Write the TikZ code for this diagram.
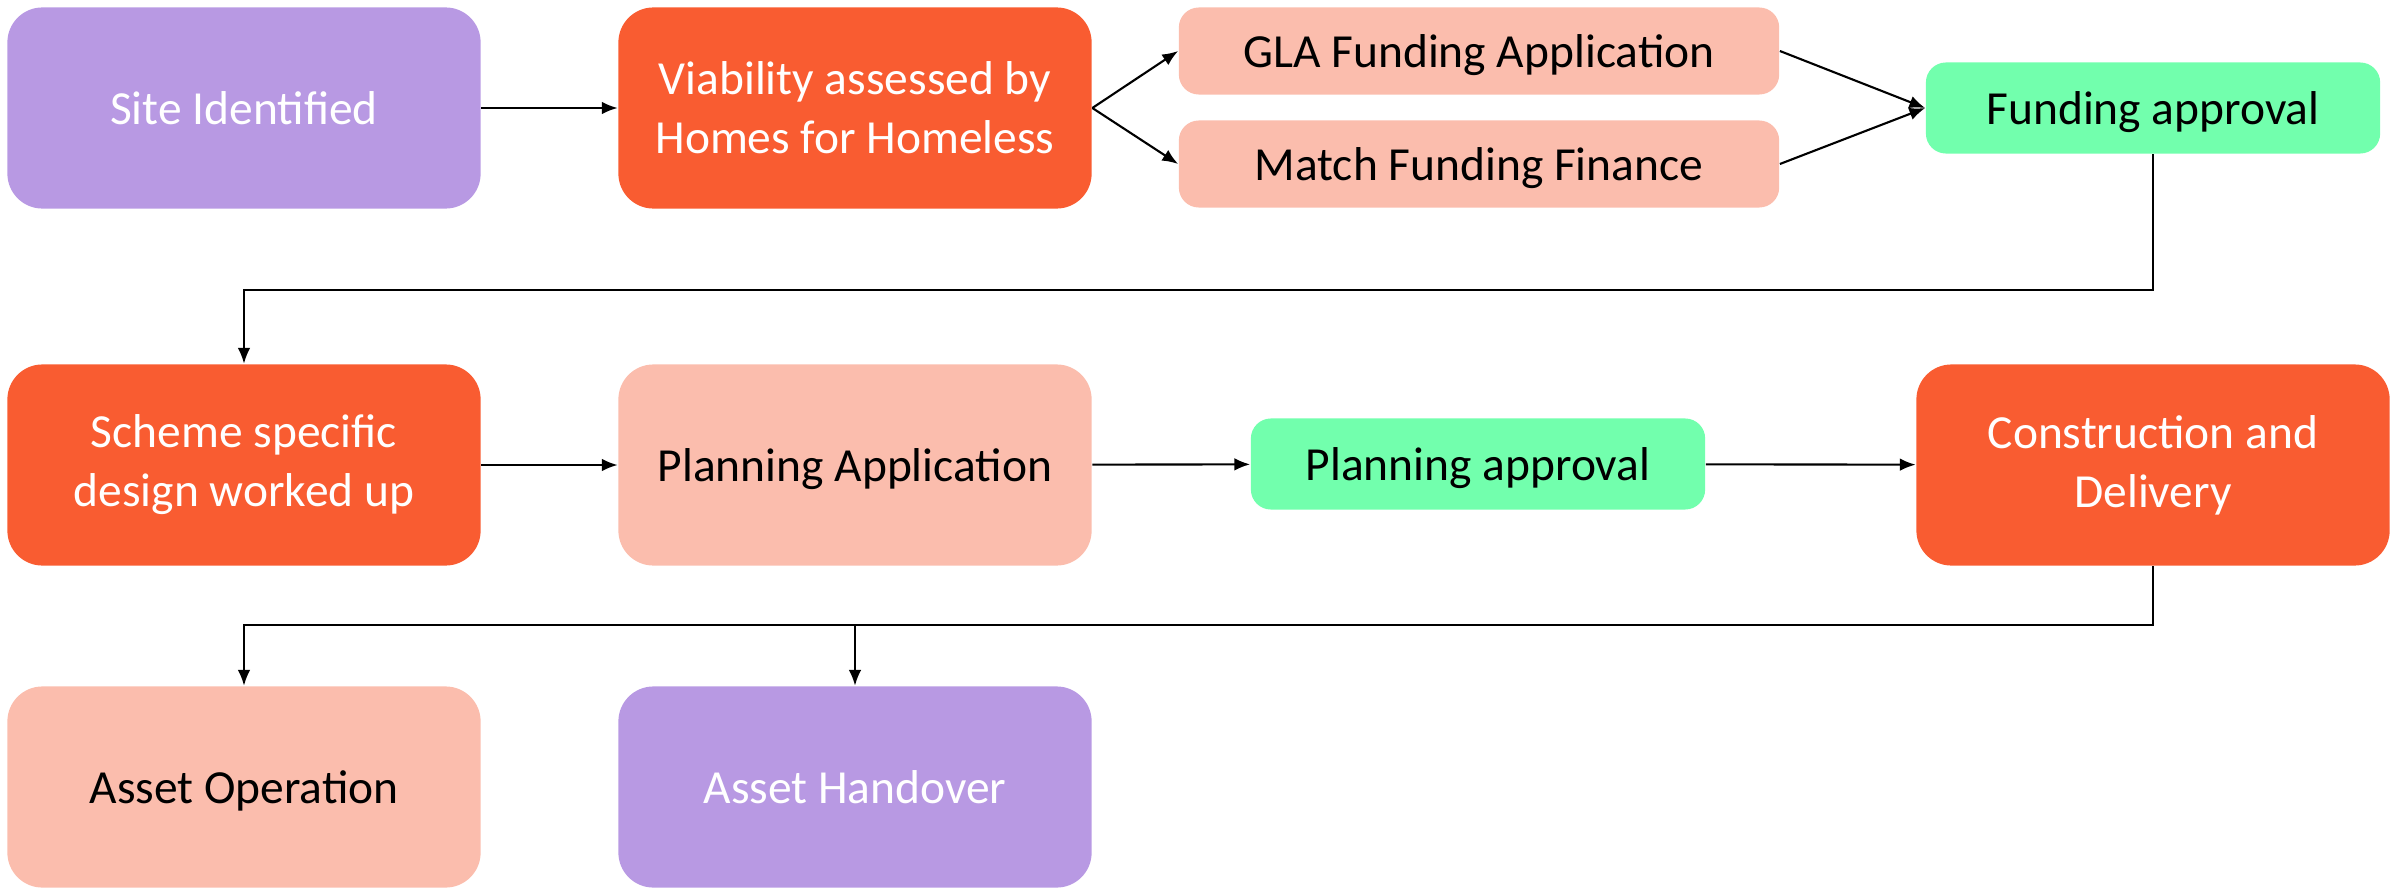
\documentclass[tikz,border=0pt]{standalone}
\usepackage{fontspec}
\setmainfont{Carlito}
\usetikzlibrary{arrows.meta}

\definecolor{lilac}{HTML}{B899E3}
\definecolor{coral}{HTML}{F95C31}
\definecolor{peach}{HTML}{FBBDAD}
\definecolor{mint}{HTML}{72FFAD}

\begin{document}
\begin{tikzpicture}[x=0.01cm, y=-0.01cm,
    box/.style={rounded corners=0.35cm, minimum width=4.73cm, minimum height=2.01cm,
                inner sep=0pt, align=center, font=\fontsize{13.5}{16.8}\selectfont},
    oneline/.style={text height=12pt, text depth=2.6pt},
    slimbox/.style={box, oneline, rounded corners=0.2cm, minimum width=6cm, minimum height=0.87cm},
    okbox/.style={box, oneline, rounded corners=0.2cm, fill=mint, minimum width=4.54cm, minimum height=0.91cm},
    flow/.style={-{Latex[length=4.5pt,width=3.6pt]}, line width=0.6pt}]
        \useasboundingbox (0,0) rectangle (2395,894);

        % --- Row 1: site and funding ---
        \node[box, oneline, fill=lilac, text=white] (site) at (244,108) {Site Identified};
        \node[box, fill=coral, text=white] (viab) at (855,108) {Viability assessed by\\Homes for Homeless};
        \node[slimbox, fill=peach] (gla) at (1479,51) {GLA Funding Application};
        \node[slimbox, fill=peach] (match) at (1479,164) {Match Funding Finance};
        \node[okbox] (fund) at (2153,108) {Funding approval};

        % --- Row 2: design, planning, build ---
        \node[box, fill=coral, text=white] (scheme) at (244,465) {Scheme specific\\design worked up};
        \node[box, oneline, fill=peach] (papp) at (855,465) {Planning Application};
        \node[okbox] (pok) at (1478,464) {Planning approval};
        \node[box, fill=coral, text=white] (build) at (2153,465) {Construction and\\Delivery};

        % --- Row 3: asset ---
        \node[box, oneline, fill=peach] (op) at (244,787) {Asset Operation};
        \node[box, oneline, fill=lilac, text=white] (hand) at (855,787) {Asset Handover};

        % --- Connectors ---
        \draw[flow] (site) -- (viab);
        \draw[flow] (viab.east) -- (gla.west);
        \draw[flow] (viab.east) -- (match.west);
        \draw[flow] (gla.east) -- (fund.west);
        \draw[flow] (match.east) -- (fund.west);
        \draw[flow] (fund.south) -- ++(0,136) -| (scheme.north);
        \draw[flow] (scheme) -- (papp);
        \draw[flow] (papp) -- (pok);
        \draw[flow] (pok) -- (build);
        \draw[flow] (build.south) -- ++(0,59) -| (op.north);
        \draw[flow] (build.south) -- ++(0,59) -| (hand.north);
    \end{tikzpicture}
\end{document}
